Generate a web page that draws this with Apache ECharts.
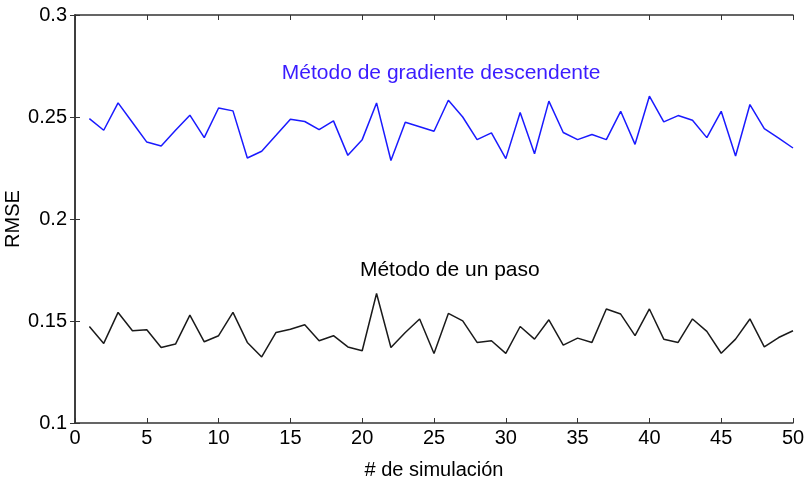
<!DOCTYPE html>
<html><head><meta charset="utf-8">
<script src="https://cdn.jsdelivr.net/npm/echarts@6/dist/echarts.min.js"></script>
<style>html,body{margin:0;padding:0;background:#fff}#c{width:805px;height:491px}</style>
</head><body><div id="c"></div>
<script>
const simulations = Array.from({length: 50}, (_, i) => i + 1);
const gradientRMSE = [0.2492,0.2435,0.2569,0.2473,0.2377,0.2358,0.2435,0.2509,0.2399,0.2544,
0.2530,0.2299,0.2332,0.2410,0.2489,0.2478,0.2438,0.2481,0.2312,0.2389,
0.2569,0.2287,0.2474,0.2452,0.2430,0.2582,0.2500,0.2389,0.2422,0.2296,
0.2522,0.2320,0.2578,0.2424,0.2389,0.2414,0.2389,0.2528,0.2366,0.2602,
0.2476,0.2507,0.2484,0.2399,0.2528,0.2309,0.2561,0.2443,0.2397,0.2348];
const onestepRMSE = [0.1473,0.1390,0.1542,0.1452,0.1457,0.1370,0.1387,0.1529,0.1398,0.1428,
0.1542,0.1395,0.1324,0.1444,0.1460,0.1482,0.1403,0.1428,0.1373,0.1354,
0.1635,0.1370,0.1444,0.1510,0.1341,0.1537,0.1501,0.1395,0.1403,0.1341,
0.1473,0.1411,0.1506,0.1382,0.1416,0.1395,0.1559,0.1534,0.1428,0.1559,
0.1411,0.1395,0.1510,0.1449,0.1342,0.1411,0.1510,0.1373,0.1419,0.1452];
const xTicks = [0,5,10,15,20,25,30,35,40,45,50];
const yTicks = [0.1,0.15,0.2,0.25,0.3];
const labelGradient = 'Método de gradiente descendente';
const labelOneStep = 'Método de un paso';

const FONT = 'Liberation Sans, Arial, sans-serif';
const chart = echarts.init(document.getElementById('c'));
const axisLine = {show:true, lineStyle:{color:'#333', width:1.5}};
const tick = {inside:true, length:5, lineStyle:{color:'#333'}};
const baseX = {type:'value', min:0, max:50, interval:5, axisLine, splitLine:{show:false}};
const baseY = {type:'value', min:0.1, max:0.3, interval:0.05, axisLine, splitLine:{show:false}};
const annot = (coord, text, color) => ({
  symbol:'circle', symbolSize:1, itemStyle:{color:'rgba(0,0,0,0)'},
  data:[{coord, label:{show:true, position:'inside', formatter:text, fontFamily:FONT, fontSize:21, color}}]
});
chart.setOption({
  animation:false,
  grid:{left:75, right:12, top:15, bottom:68, containLabel:false, outerBoundsMode:'none'},
  xAxis:[
    Object.assign({}, baseX, {position:'bottom', name:'# de simulación', nameLocation:'middle', nameGap:37,
      nameMoveOverlap:false,
      nameTextStyle:{fontFamily:FONT, fontSize:20, color:'#000'},
      axisTick:tick,
      axisLabel:{fontFamily:FONT, fontSize:20, color:'#000', margin:5,
        formatter: v => xTicks.includes(v) ? String(v) : ''}}),
    Object.assign({}, baseX, {position:'top', axisTick:tick, axisLabel:{show:false}})
  ],
  yAxis:[
    Object.assign({}, baseY, {position:'left', name:'RMSE', nameLocation:'middle', nameGap:52,
      nameMoveOverlap:false,
      nameTextStyle:{fontFamily:FONT, fontSize:20, color:'#000'},
      axisTick:tick,
      axisLabel:{fontFamily:FONT, fontSize:20, color:'#000', margin:8,
        formatter: v => { const t = yTicks.find(y => Math.abs(y - v) < 1e-9); return t === undefined ? '' : String(t); }}}),
    Object.assign({}, baseY, {position:'right', axisTick:tick, axisLabel:{show:false}})
  ],
  series:[
    {type:'line', data: simulations.map((s,i)=>[s, gradientRMSE[i]]), symbol:'none',
      lineStyle:{color:'#1a1aff', width:1.5},
      markPoint: annot([25.5,0.2715], labelGradient, '#3a1cff')},
    {type:'line', data: simulations.map((s,i)=>[s, onestepRMSE[i]]), symbol:'none',
      lineStyle:{color:'#1a1a1a', width:1.5},
      markPoint: annot([26.1,0.1747], labelOneStep, '#000')}
  ]
});
</script></body></html>
